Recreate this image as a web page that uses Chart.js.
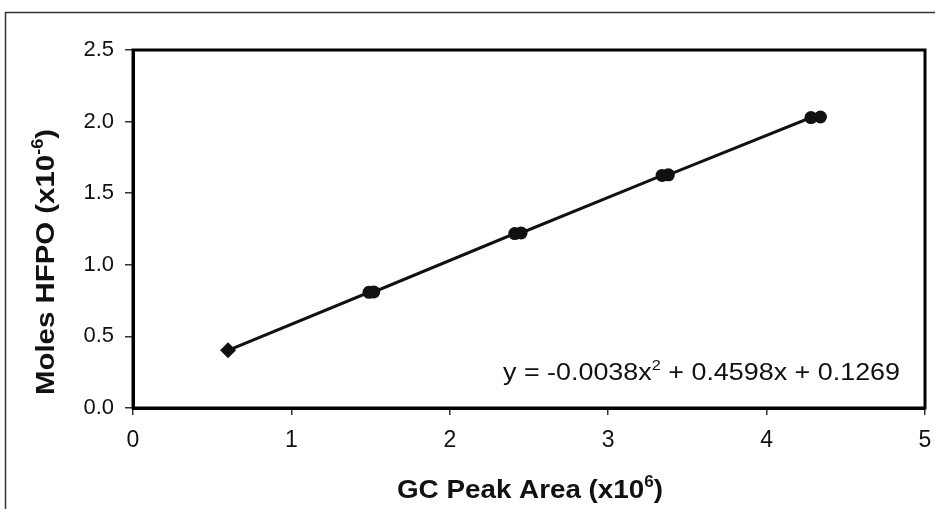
<!DOCTYPE html>
<html>
<head>
<meta charset="utf-8">
<script src="https://cdn.jsdelivr.net/npm/chart.js@4.4.1/dist/chart.umd.min.js"></script>
<style>
html,body{margin:0;padding:0;background:#fff;}
#wrap{width:935px;height:509px;position:relative;}
</style>
</head>
<body>
<div id="wrap"><canvas id="c" width="935" height="509"></canvas></div>
<script>
const peakArea = [0.60, 1.49, 1.52, 2.41, 2.45, 3.34, 3.38, 4.28, 4.34];
const molesHFPO = [0.403, 0.808, 0.810, 1.218, 1.222, 1.624, 1.628, 2.028, 2.032];
const markerShapes = ['rectRot', 'circle', 'circle', 'circle', 'circle', 'circle', 'circle', 'circle', 'circle'];
const xTicks = [0, 1, 2, 3, 4, 5];
const yTicks = [0.0, 0.5, 1.0, 1.5, 2.0, 2.5];
const xTitle = ['GC Peak Area (x10', '6', ')'];
const yTitle = ['Moles HFPO (x10', '-6', ')'];
const equation = ['y = -0.0038x', '2', ' + 0.4598x + 0.1269'];

const FONT = '"Liberation Sans", Arial, sans-serif';
const pts = peakArea.map((x, i) => ({x: x, y: molesHFPO[i]}));

// draws text with a superscript part; stretched horizontally to targetW
function drawSup(ctx, parts, x, y, size, bold, align, targetW) {
  const w = bold ? 'bold ' : '';
  const supSize = Math.round(size * 0.6);
  ctx.font = w + size + 'px ' + FONT;
  const w0 = ctx.measureText(parts[0]).width;
  const w2 = ctx.measureText(parts[2]).width;
  ctx.font = w + supSize + 'px ' + FONT;
  const w1 = ctx.measureText(parts[1]).width;
  const total = w0 + w1 + w2;
  const sc = targetW ? targetW / total : 1;
  ctx.save();
  let sx = align === 'center' ? x - total * sc / 2 : (align === 'right' ? x - total * sc : x);
  ctx.translate(sx, y);
  ctx.scale(sc, 1);
  ctx.textBaseline = 'alphabetic';
  ctx.textAlign = 'left';
  ctx.font = w + size + 'px ' + FONT;
  ctx.fillText(parts[0], 0, 0);
  ctx.font = w + supSize + 'px ' + FONT;
  ctx.fillText(parts[1], w0, -size * 0.42);
  ctx.font = w + size + 'px ' + FONT;
  ctx.fillText(parts[2], w0 + w1, 0);
  ctx.restore();
}

const decor = {
  id: 'decor',
  beforeDraw(chart) {
    const ctx = chart.ctx;
    ctx.save();
    ctx.fillStyle = '#fff';
    ctx.fillRect(0, 0, chart.width, chart.height);
    // outer frame (top & left edges visible)
    ctx.strokeStyle = '#333';
    ctx.lineWidth = 1.5;
    ctx.beginPath();
    ctx.moveTo(5.5, 509);
    ctx.lineTo(5.5, 12.5);
    ctx.lineTo(935, 12.5);
    ctx.stroke();
    ctx.restore();
  },
  afterDraw(chart) {
    const ctx = chart.ctx;
    const a = chart.chartArea;
    ctx.save();
    ctx.strokeStyle = '#000';
    ctx.lineWidth = 3;
    ctx.strokeRect(a.left, a.top, a.right - a.left, a.bottom - a.top);
    ctx.fillStyle = '#111';
    // x title
    drawSup(ctx, xTitle, 530, 498, 26, true, 'center', 266);
    // y title
    ctx.save();
    ctx.translate(54, 262);
    ctx.rotate(-Math.PI / 2);
    drawSup(ctx, yTitle, 0, 0, 26, true, 'center', 266);
    ctx.restore();
    // equation
    drawSup(ctx, equation, 503, 380, 23, false, 'left', 397);
    ctx.restore();
  }
};

new Chart(document.getElementById('c'), {
  type: 'scatter',
  data: {
    datasets: [
      {
        data: pts,
        showLine: true,
        borderColor: '#111',
        borderWidth: 3,
        backgroundColor: '#111',
        pointStyle: markerShapes,
        pointRadius: [8, 6.5, 6.5, 6.5, 6.5, 6.5, 6.5, 6.5, 6.5],
        pointHoverRadius: 6.5,
        pointBorderWidth: 0,
        tension: 0
      }
    ]
  },
  options: {
    responsive: false,
    animation: false,
    events: [],
    layout: {padding: {left: 0, right: 10, top: 50, bottom: 0}},
    plugins: {legend: {display: false}, tooltip: {enabled: false}, title: {display: false}},
    scales: {
      x: {
        type: 'linear',
        min: 0, max: 5,
        afterFit(s) { s.height = 101; s.paddingLeft = 0; s.paddingRight = 0; },
        afterBuildTicks(s) { s.ticks = xTicks.map(v => ({value: v})); },
        grid: {display: true, drawOnChartArea: false, drawTicks: true, tickLength: 7, color: '#333', lineWidth: 1.5},
        border: {display: true, color: '#000', width: 3},
        ticks: {color: '#111', font: {family: FONT, size: 23}, padding: 12, maxRotation: 0,
          callback: v => String(v)}
      },
      y: {
        type: 'linear',
        min: 0, max: 2.5,
        afterFit(s) { s.width = 133; s.paddingTop = 0; s.paddingBottom = 0; },
        afterBuildTicks(s) { s.ticks = yTicks.map(v => ({value: v})); },
        grid: {display: true, drawOnChartArea: false, drawTicks: true, tickLength: 8, color: '#333', lineWidth: 1.5},
        border: {display: true, color: '#000', width: 3},
        ticks: {color: '#111', font: {family: FONT, size: 22}, padding: 11,
          callback: v => v.toFixed(1)}
      }
    }
  },
  plugins: [decor]
});
</script>
</body>
</html>
